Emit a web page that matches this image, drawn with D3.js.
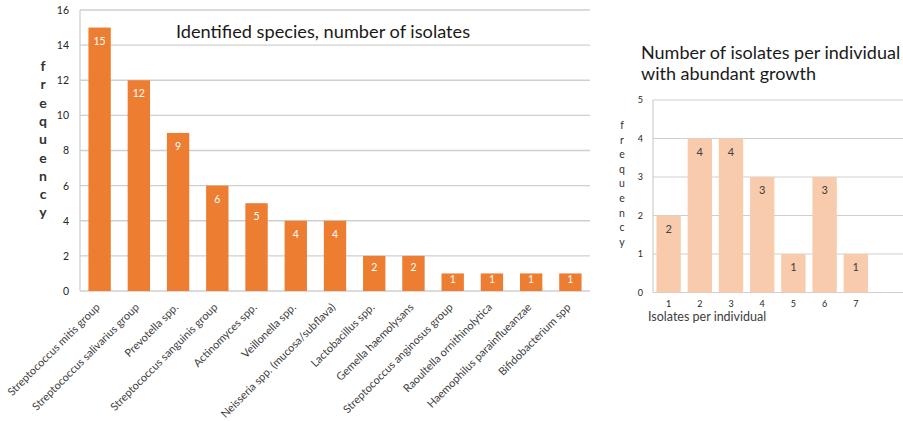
<!DOCTYPE html>
<html>
<head>
<meta charset="utf-8">
<script src="https://cdn.jsdelivr.net/npm/d3@7/dist/d3.min.js"></script>
<style>
  html, body { margin: 0; padding: 0; background: #fff; }
  svg { display: block; font-family: Lato, "Open Sans", sans-serif; }
</style>
</head>
<body>
<svg id="chart" width="903" height="421"></svg>
<script>
// Species identified and number of isolates of each
const species = [
  "Streptococcus mitis group",
  "Streptococcus salivarius group",
  "Prevotella spp.",
  "Streptococcus sanguinis group",
  "Actinomyces spp.",
  "Veillonella spp.",
  "Neisseria spp. (mucosa/subflava)",
  "Lactobacillus spp.",
  "Gemella haemolysans",
  "Streptococcus anginosus group",
  "Raoultella ornithinolytica",
  "Haemophilus parainflueanzae",
  "Bifidobacterium spp"
];
const speciesCounts = [15, 12, 9, 6, 5, 4, 4, 2, 2, 1, 1, 1, 1];
const speciesTicks = [0, 2, 4, 6, 8, 10, 12, 14, 16];

// Isolates per individual with abundant growth
const isolatesPerIndividual = ["1", "2", "3", "4", "5", "6", "7"];
const individualCounts = [2, 4, 4, 3, 1, 3, 1];
const individualTicks = [0, 1, 2, 3, 4, 5];

const svg = d3.select("#chart");
const gridColor = "#cfcfcf";
const textColor = "#404040";

// ---------- Left chart: identified species ----------
{
  const L = { left: 80, right: 590, top: 10, bottom: 291 };
  const x = d3.scaleBand().domain(species).range([L.left, L.right]).paddingInner(0.43).paddingOuter(0.215);
  const y = d3.scaleLinear().domain([0, 16]).range([L.bottom, L.top]);
  const g = svg.append("g");

  // horizontal gridlines
  g.append("g").selectAll("line").data(speciesTicks).join("line")
    .attr("x1", L.left).attr("x2", L.right)
    .attr("y1", d => y(d)).attr("y2", d => y(d))
    .attr("stroke", gridColor).attr("stroke-width", 1.3);
  // vertical axis line
  g.append("line").attr("x1", L.left).attr("x2", L.left)
    .attr("y1", y(16)).attr("y2", y(0)).attr("stroke", gridColor).attr("stroke-width", 1.3);

  // y tick labels
  const yAxis = d3.axisLeft(y).tickValues(speciesTicks).tickFormat(d3.format("d")).tickSize(0).tickPadding(0);
  const ya = g.append("g").attr("transform", `translate(${L.left - 11},0)`).call(yAxis);
  ya.select(".domain").remove();
  ya.selectAll("text").attr("font-size", 10.5).attr("fill", "#262626").attr("font-family", "Lato, sans-serif");

  // bars
  g.append("g").selectAll("rect").data(speciesCounts).join("rect")
    .attr("x", (d, i) => x(species[i]))
    .attr("width", x.bandwidth())
    .attr("y", d => y(d))
    .attr("height", d => y(0) - y(d))
    .attr("fill", "#ED7D31");

  // value labels inside bar ends
  g.append("g").selectAll("text").data(speciesCounts).join("text")
    .attr("x", (d, i) => x(species[i]) + x.bandwidth() / 2)
    .attr("y", d => { const h = y(0) - y(d); return y(d) + Math.min(13.5, h * 0.32); })
    .attr("dy", "0.35em")
    .attr("text-anchor", "middle")
    .attr("font-size", 10.5).attr("fill", "#fff")
    .text(d => d);

  // rotated category labels
  g.append("g").selectAll("text").data(species).join("text")
    .attr("transform", d => `translate(${x(d) + x.bandwidth() / 2 + 1},${L.bottom + 17}) rotate(-45)`)
    .attr("text-anchor", "end")
    .attr("font-size", 11).attr("fill", textColor)
    .text(d => d);

  // title
  g.append("text").attr("x", 323).attr("y", 38).attr("text-anchor", "middle")
    .attr("font-size", 18.2).attr("fill", "#1a1a1a").text("Identified species, number of isolates");

  // stacked y axis title
  g.append("g").selectAll("text").data("frequency".split("")).join("text")
    .attr("x", 43).attr("y", (d, i) => 71 + i * 18.3)
    .attr("text-anchor", "middle")
    .attr("font-size", 14).attr("font-weight", "bold").attr("fill", "#333")
    .text(d => d);
}

// ---------- Right chart: isolates per individual ----------
{
  const R = { left: 653, right: 903, top: 100, bottom: 292.5 };
  const bandStep = 31.2;
  const x = d3.scaleBand().domain(isolatesPerIndividual)
    .range([R.left, R.left + bandStep * isolatesPerIndividual.length])
    .paddingInner(0.22).paddingOuter(0.11);
  const y = d3.scaleLinear().domain([0, 5]).range([R.bottom, R.top]);
  const g = svg.append("g");

  g.append("g").selectAll("line").data(individualTicks).join("line")
    .attr("x1", R.left).attr("x2", R.right)
    .attr("y1", d => y(d)).attr("y2", d => y(d))
    .attr("stroke", gridColor).attr("stroke-width", 1.2);
  g.append("line").attr("x1", R.left).attr("x2", R.left)
    .attr("y1", y(5)).attr("y2", y(0)).attr("stroke", gridColor).attr("stroke-width", 1.2);

  const yAxis = d3.axisLeft(y).tickValues(individualTicks).tickFormat(d3.format("d")).tickSize(0).tickPadding(0);
  const ya = g.append("g").attr("transform", `translate(${R.left - 10},0)`).call(yAxis);
  ya.select(".domain").remove();
  ya.selectAll("text").attr("font-size", 9).attr("fill", "#262626").attr("font-family", "Lato, sans-serif");

  g.append("g").selectAll("rect").data(individualCounts).join("rect")
    .attr("x", (d, i) => x(isolatesPerIndividual[i]))
    .attr("width", x.bandwidth())
    .attr("y", d => y(d))
    .attr("height", d => y(0) - y(d))
    .attr("fill", "#F8CBAD");

  g.append("g").selectAll("text").data(individualCounts).join("text")
    .attr("x", (d, i) => x(isolatesPerIndividual[i]) + x.bandwidth() / 2)
    .attr("y", d => y(d) + 13.5)
    .attr("dy", "0.35em")
    .attr("text-anchor", "middle")
    .attr("font-size", 11).attr("fill", textColor)
    .text(d => d);

  const xAxis = d3.axisBottom(x).tickSize(0).tickPadding(0);
  const xa = g.append("g").attr("transform", `translate(0,${R.bottom + 8})`).call(xAxis);
  xa.select(".domain").remove();
  xa.selectAll("text").attr("font-size", 9).attr("fill", "#262626").attr("font-family", "Lato, sans-serif");

  g.append("text").attr("x", 648).attr("y", 321)
    .attr("font-size", 12.5).attr("fill", textColor).text("Isolates per individual");

  const title = g.append("text").attr("font-size", 18).attr("fill", "#1a1a1a");
  title.append("tspan").attr("x", 641).attr("y", 59).text("Number of isolates per individual");
  title.append("tspan").attr("x", 641).attr("y", 80).text("with abundant growth");

  g.append("g").selectAll("text").data("frequency".split("")).join("text")
    .attr("x", 622).attr("y", (d, i) => 129 + i * 14.6)
    .attr("text-anchor", "middle")
    .attr("font-size", 10.5).attr("fill", "#333")
    .text(d => d);
}
</script>
</body>
</html>
